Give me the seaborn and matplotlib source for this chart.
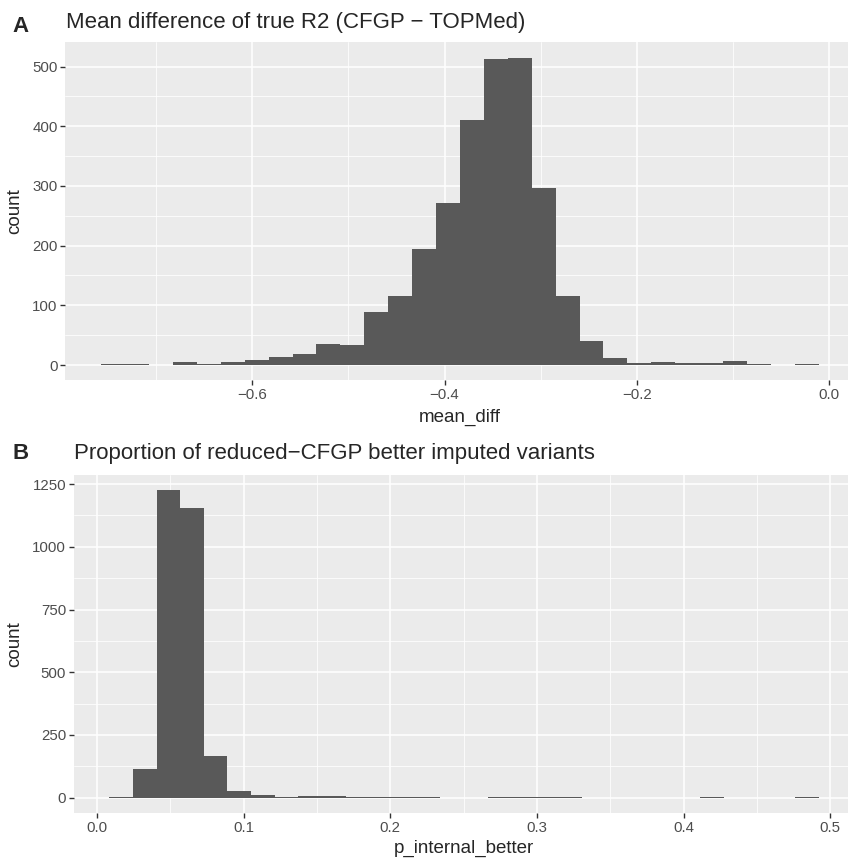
import numpy as np
import pandas as pd
import matplotlib
matplotlib.use("Agg")
import matplotlib.pyplot as plt
from matplotlib.ticker import MultipleLocator
import seaborn as sns

# ---------------- data ----------------
a_tag = "A"
a_title = "Mean difference of true R2 (CFGP \u2212 TOPMed)"
a_xlabel = "mean_diff"
a_bin_range = (-0.757, -0.011)
a_counts = [2, 1, 0, 5, 2, 5, 8, 13, 18, 35,
            34, 88, 116, 195, 272, 410, 513, 515, 296, 115,
            41, 11, 3, 5, 4, 3, 6, 2, 0, 1]

b_tag = "B"
b_title = "Proportion of reduced\u2212CFGP better imputed variants"
b_xlabel = "p_internal_better"
b_bin_range = (0.0084, 0.492)
b_counts = [2, 115, 1225, 1153, 166, 25, 11, 4, 8, 6,
            3, 3, 3, 1, 0, 0, 2, 2, 1, 1,
            0, 0, 0, 0, 0, 1, 0, 0, 0, 1]

y_label = "count"

# ---------------- style ----------------
sns.set_theme(style="darkgrid", rc={
    "axes.facecolor": "#EBEBEB",
    "grid.color": "white",
    "axes.edgecolor": "none",
})
plt.rcParams["font.family"] = ["Liberation Sans", "DejaVu Sans"]
plt.rcParams["axes.unicode_minus"] = True

W, H = 848, 859
fig = plt.figure(figsize=(W / 100, H / 100), dpi=100)
fig.patch.set_facecolor("white")


def px_axes(x0, x1, top, bottom):
    return fig.add_axes([x0 / W, 1 - bottom / H, (x1 - x0) / W, (bottom - top) / H])


def ftext(x, y, s, **kw):
    return fig.text(x / W, 1 - y / H, s, **kw)


def draw(ax, counts, rng, xmaj, ymaj):
    n = len(counts)
    width = (rng[1] - rng[0]) / n
    centers = rng[0] + width * (np.arange(n) + 0.5)
    df = pd.DataFrame({"x": centers, "count": counts})
    sns.histplot(data=df, x="x", weights="count", bins=n, binrange=rng, ax=ax,
                 color="#595959", alpha=1, linewidth=0, edgecolor="none")
    span = rng[1] - rng[0]
    ax.set_xlim(rng[0] - 0.05 * span, rng[1] + 0.05 * span)
    ymax = max(counts)
    ax.set_ylim(-0.05 * ymax, 1.05 * ymax)
    ax.xaxis.set_major_locator(MultipleLocator(xmaj))
    ax.xaxis.set_minor_locator(MultipleLocator(xmaj / 2))
    ax.yaxis.set_major_locator(MultipleLocator(ymaj))
    ax.yaxis.set_minor_locator(MultipleLocator(ymaj / 2))
    ax.set_axisbelow(True)
    ax.grid(which="major", color="white", linewidth=1.15)
    ax.grid(which="minor", color="white", linewidth=0.55)
    ax.tick_params(which="major", length=3.3, width=1.0, color="#333333",
                   labelsize=10.8, labelcolor="#4D4D4D", pad=2.2)
    ax.tick_params(which="minor", length=0)
    ax.tick_params(axis="x", bottom=True)
    ax.tick_params(axis="y", left=True)
    for s in ax.spines.values():
        s.set_visible(False)
    ax.set_xlabel("")
    ax.set_ylabel("")


axA = px_axes(65.3, 854.6, 42.2, 380.4)
draw(axA, a_counts, a_bin_range, 0.2, 100)
axB = px_axes(73.8, 854.0, 475.0, 813.0)
draw(axB, b_counts, b_bin_range, 0.1, 250)

# titles and tags
ftext(12.0, 31.5, a_tag, fontsize=16, fontweight="bold", ha="left", va="baseline")
ftext(66.0, 28.0, a_title, fontsize=16, ha="left", va="baseline")
ftext(12.0, 459.0, b_tag, fontsize=16, fontweight="bold", ha="left", va="baseline")
ftext(74.5, 458.5, b_title, fontsize=16, ha="left", va="baseline")

# axis titles
ftext(460, 422, a_xlabel, fontsize=13.5, ha="center", va="baseline")
ftext(464, 853, b_xlabel, fontsize=13.5, ha="center", va="baseline")
ftext(15, 211, y_label, fontsize=13.5, ha="center", va="center", rotation=90)
ftext(15, 644, y_label, fontsize=13.5, ha="center", va="center", rotation=90)

fig.savefig("out.png", dpi=100)
